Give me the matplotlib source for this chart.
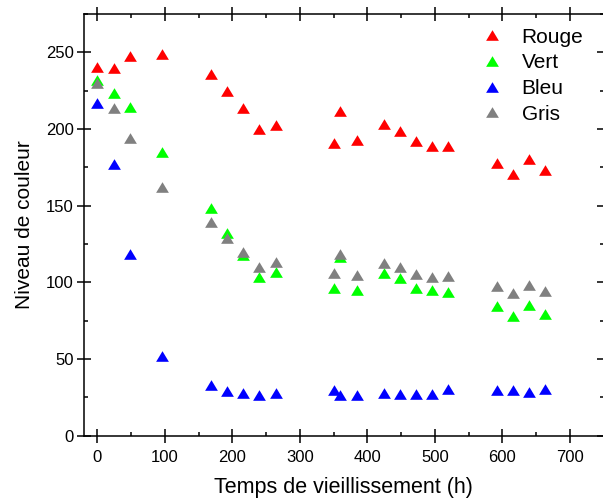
import matplotlib.pyplot as plt
from matplotlib.ticker import MultipleLocator

plt.rcParams['font.family'] = ['Liberation Sans', 'DejaVu Sans']

# temps de vieillissement (h)
temps = [0, 24, 48, 96, 168, 192, 216, 240, 264, 351, 360, 384, 424, 448,
         472, 496, 520, 592, 616, 640, 664]

rouge = [240.5, 240, 247.5, 249, 235.8, 225, 213.4, 199.7, 202.7, 191, 212,
         192.8, 203, 198.6, 192.3, 189, 189, 177.8, 170.8, 180.2, 173]
vert = [231.9, 223.4, 214.5, 184.7, 148.6, 131.9, 118, 103.5, 106.7, 96.3,
        116.5, 95.2, 106.3, 103, 96.5, 94.8, 93.7, 84.6, 78, 85.2, 79.5]
bleu = [216.7, 176.9, 118.4, 52.2, 33, 29.1, 27.8, 26.5, 28, 29.8, 26.5,
        26.3, 27.6, 27.4, 27, 27.2, 30.4, 29.8, 29.8, 28.3, 30.4]
gris = [229.7, 213.6, 193.9, 162.1, 139.1, 129.1, 120, 110, 113, 105.9,
        118.4, 104.8, 112.4, 110, 105.4, 103.7, 104.3, 97.6, 93, 98, 94.3]

series = [('Rouge', rouge, '#ff0000'),
          ('Vert', vert, '#00ff00'),
          ('Bleu', bleu, '#0000ff'),
          ('Gris', gris, '#808080')]

# triangle un peu aplati, comme dans Origin
tri = [(-1, -0.83), (1, -0.83), (0, 0.83), (-1, -0.83)]

fig = plt.figure(figsize=(6.03, 4.99), dpi=100)
ax = fig.add_axes([84 / 603, 63.3 / 499, 519.5 / 603, 421.8 / 499])

for nom, vals, col in series:
    ax.plot(temps, vals, linestyle='none', marker=tri, markersize=9.2,
            color=col, markeredgewidth=0, label=nom)

ax.set_xlim(-20, 750)
ax.set_ylim(0, 275)
ax.xaxis.set_major_locator(MultipleLocator(100))
ax.xaxis.set_minor_locator(MultipleLocator(50))
ax.yaxis.set_major_locator(MultipleLocator(50))
ax.yaxis.set_minor_locator(MultipleLocator(25))

for s in ax.spines.values():
    s.set_linewidth(1.1)

ax.tick_params(which='major', direction='inout', length=10.5, width=1.1,
               labelsize=12, top=True, right=True, pad=2)
ax.tick_params(axis='x', which='major', pad=5)
ax.tick_params(which='minor', direction='in', length=3, width=1.1,
               top=True, right=True)

ax.set_xlabel('Temps de vieillissement (h)', fontsize=15.5, labelpad=9)
ax.set_ylabel('Niveau de couleur', fontsize=15, labelpad=9)

ax.legend(loc='upper left', bbox_to_anchor=(0.75, 0.987), frameon=False,
          fontsize=15, handletextpad=0.9, labelspacing=0.32,
          handlelength=1.0, borderaxespad=0)

fig.savefig('out.png', dpi=100)
